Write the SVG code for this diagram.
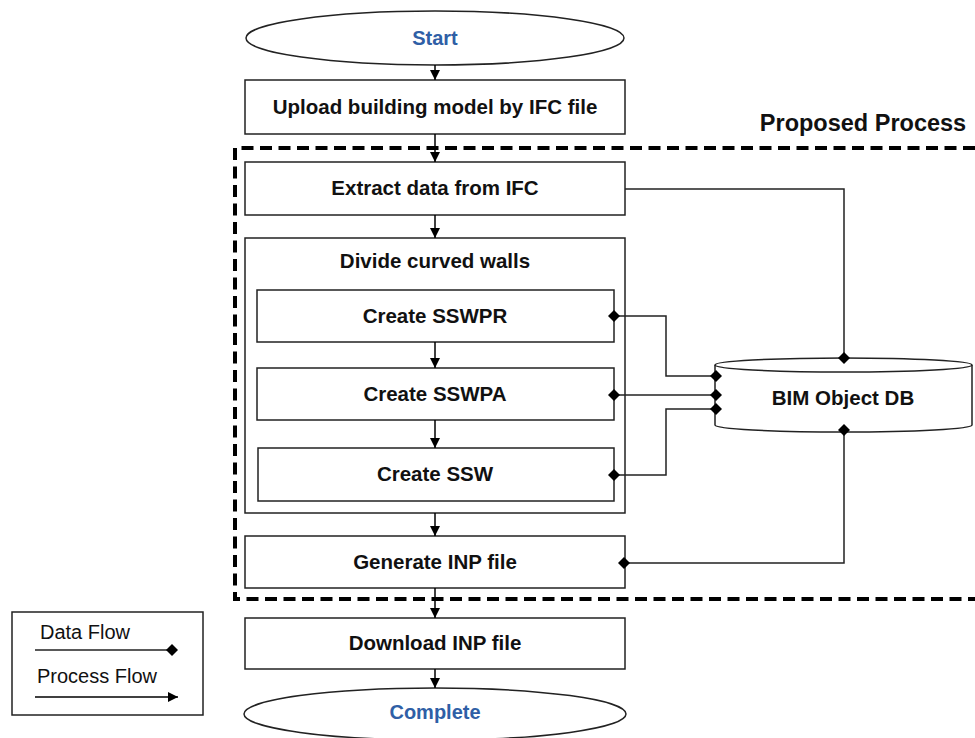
<svg xmlns="http://www.w3.org/2000/svg" width="975" height="738" viewBox="0 0 975 738">
  <defs>
    <marker id="arrow" markerWidth="11" markerHeight="11" refX="10" refY="5" orient="auto" markerUnits="userSpaceOnUse">
      <path d="M0,0 L10,5 L0,10 Z" fill="#000"/>
    </marker>
    <marker id="dia" markerWidth="12" markerHeight="12" refX="6" refY="6" orient="auto" markerUnits="userSpaceOnUse">
      <path d="M0,6 L6,0 L12,6 L6,12 Z" fill="#000"/>
    </marker>
    <style>
      .box { fill: #fff; stroke: #222; stroke-width: 1.5; }
      .lbl { font-family: "Liberation Sans", Arial, sans-serif; font-weight: bold; font-size: 20.5px; fill: #111; text-anchor: middle; }
      .term { font-family: "Liberation Sans", Arial, sans-serif; font-weight: bold; font-size: 20px; fill: #2f5fa6; text-anchor: middle; }
      .flow { fill: none; stroke: #000; stroke-width: 1.5; }
      .data { fill: none; stroke: #222; stroke-width: 1.5; }
      .leg { font-family: "Liberation Sans", Arial, sans-serif; font-size: 20px; fill: #111; }
    </style>
  </defs>

  <!-- dashed boundary of the proposed process -->
  <g id="proposed-frame">
    <path d="M975,148 L235,148 L235,599 L975,599" fill="none" stroke="#000" stroke-width="4" stroke-dasharray="12,6.5"/>
    <text x="863" y="131" font-family="Liberation Sans, Arial, sans-serif" font-weight="bold" font-size="23.5" fill="#111" text-anchor="middle">Proposed Process</text>
  </g>

  <g id="start">
    <ellipse cx="435" cy="38" rx="189" ry="27" class="box"/>
    <text x="435" y="45" class="term">Start</text>
  </g>
  <g id="upload">
    <rect x="245" y="80" width="380" height="54" class="box"/>
    <text x="435" y="114" class="lbl">Upload building model by IFC file</text>
  </g>
  <g id="extract">
    <rect x="245" y="162" width="380" height="53" class="box"/>
    <text x="435" y="195" class="lbl">Extract data from IFC</text>
  </g>
  <g id="divide">
    <rect x="245" y="238" width="380" height="275" class="box"/>
    <text x="435" y="268" class="lbl">Divide curved walls</text>
  </g>
  <g id="sswpr">
    <rect x="257" y="290" width="357" height="52" class="box"/>
    <text x="435" y="323" class="lbl">Create SSWPR</text>
  </g>
  <g id="sswpa">
    <rect x="257" y="368" width="357" height="52" class="box"/>
    <text x="435" y="401" class="lbl">Create SSWPA</text>
  </g>
  <g id="ssw">
    <rect x="258" y="448" width="356" height="53" class="box"/>
    <text x="435" y="481" class="lbl">Create SSW</text>
  </g>
  <g id="generate">
    <rect x="245" y="536" width="380" height="52" class="box"/>
    <text x="435" y="569" class="lbl">Generate INP file</text>
  </g>
  <g id="download">
    <rect x="245" y="618" width="380" height="51" class="box"/>
    <text x="435" y="650" class="lbl">Download INP file</text>
  </g>
  <g id="complete">
    <ellipse cx="435" cy="714" rx="191" ry="26" class="box"/>
    <text x="435" y="719" class="term">Complete</text>
  </g>

  <!-- database cylinder -->
  <g id="bim-db">
    <path d="M715,365 L715,425 A128.5,7 0 0 0 972,425 L972,365" class="box"/>
    <ellipse cx="843.5" cy="365" rx="128.5" ry="7" class="box"/>
    <text x="843" y="405" class="lbl">BIM Object DB</text>
  </g>

  <g id="connectors">
    <!-- process flow -->
    <line x1="435" y1="65" x2="435" y2="80" class="flow" marker-end="url(#arrow)"/>
    <line x1="435" y1="134" x2="435" y2="162" class="flow" marker-end="url(#arrow)"/>
    <line x1="435" y1="215" x2="435" y2="238" class="flow" marker-end="url(#arrow)"/>
    <line x1="435" y1="342" x2="435" y2="368" class="flow" marker-end="url(#arrow)"/>
    <line x1="435" y1="420" x2="435" y2="448" class="flow" marker-end="url(#arrow)"/>
    <line x1="435" y1="513" x2="435" y2="536" class="flow" marker-end="url(#arrow)"/>
    <line x1="435" y1="588" x2="435" y2="618" class="flow" marker-end="url(#arrow)"/>
    <line x1="435" y1="669" x2="435" y2="688" class="flow" marker-end="url(#arrow)"/>

    <!-- data flow -->
    <path d="M625,189 L844,189 L844,358" class="data" marker-end="url(#dia)"/>
    <path d="M614,316 L666,316 L666,376 L716,376" class="data" marker-start="url(#dia)" marker-end="url(#dia)"/>
    <path d="M614,395 L716,395" class="data" marker-start="url(#dia)" marker-end="url(#dia)"/>
    <path d="M614,475 L666,475 L666,409 L716,409" class="data" marker-start="url(#dia)" marker-end="url(#dia)"/>
    <path d="M844,430 L844,563 L624,563" class="data" marker-start="url(#dia)" marker-end="url(#dia)"/>
  </g>

  <!-- legend -->
  <g id="legend">
    <rect x="12" y="612" width="191" height="103" class="box"/>
    <text x="40" y="639" class="leg">Data Flow</text>
    <line x1="35" y1="650" x2="172" y2="650" class="data" marker-end="url(#dia)"/>
    <text x="37" y="683" class="leg">Process Flow</text>
    <line x1="35" y1="697" x2="178" y2="697" class="flow" marker-end="url(#arrow)"/>
  </g>
</svg>
